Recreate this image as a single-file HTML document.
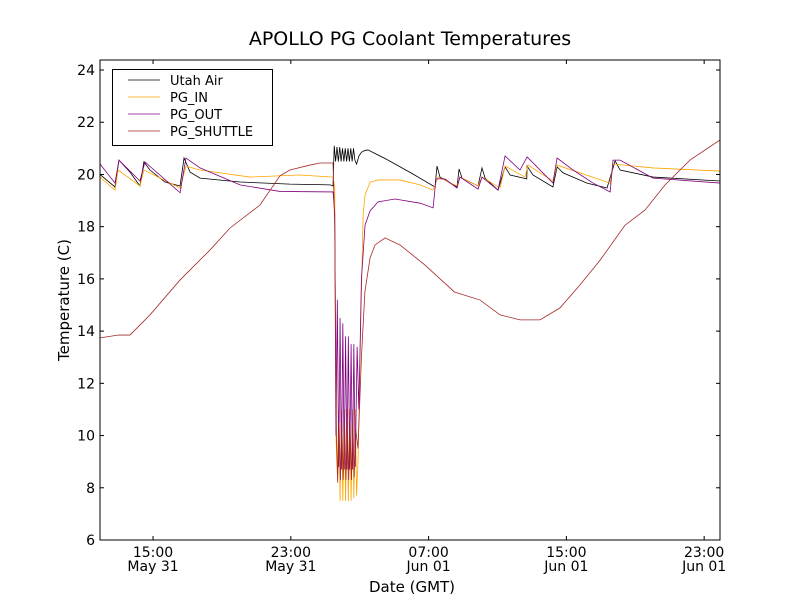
<!DOCTYPE html>
<html><head><meta charset="utf-8"><style>
body{margin:0;background:#fff}
svg text{font-family:"DejaVu Sans","Liberation Sans",sans-serif}
</style></head><body>
<svg id="chart" width="800" height="600" xmlns="http://www.w3.org/2000/svg">
<rect width="800" height="600" fill="#fff"/>
<text x="410" y="45" font-size="19" text-anchor="middle">APOLLO PG Coolant Temperatures</text>
<g id="plot"></g>
<g id="axes"></g>
<text x="412" y="592" font-size="15" text-anchor="middle">Date (GMT)</text>
<text transform="translate(69,300) rotate(-90)" font-size="15" text-anchor="middle">Temperature (C)</text>
<g>
<rect x="112.5" y="69.5" width="160" height="76" fill="#fff" stroke="#000" stroke-width="1"/>
<line x1="128" y1="80" x2="160" y2="80" stroke="#000" stroke-width="0.7"/>
<text x="170" y="85" font-size="13">Utah Air</text>
<line x1="128" y1="97" x2="160" y2="97" stroke="#FFA500" stroke-width="0.7"/>
<text x="170" y="102" font-size="13">PG_IN</text>
<line x1="128" y1="114" x2="160" y2="114" stroke="#800080" stroke-width="0.7"/>
<text x="170" y="119" font-size="13">PG_OUT</text>
<line x1="128" y1="131" x2="160" y2="131" stroke="#A52A2A" stroke-width="0.7"/>
<text x="170" y="136" font-size="13">PG_SHUTTLE</text>
</g>
</svg>
<script>
// hours since May 31 00:00 GMT
const xTicks=[15,23,31,39,47];
const xTickTime=["15:00","23:00","07:00","15:00","23:00"];
const xTickDate=["May 31","May 31","Jun 01","Jun 01","Jun 01"];
const yTicks=[6,8,10,12,14,16,18,20,22,24];
const utahT=[11.92,12.79,13.02,13.66,14.24,14.47,14.82,15.69,16.57,16.80,17.15,17.73,20.05,22.95,25.28,25.45,25.52,25.6,25.68,25.76,25.84,25.92,26.0,26.08,26.16,26.24,26.32,26.40,26.48,26.56,26.64,26.72,26.82,26.95,27.1,27.3,27.48,28.5,30.0,31.37,31.49,31.66,32.65,32.77,32.94,33.87,34.10,34.28,35.03,35.44,35.73,36.70,36.72,37.06,38.22,38.46,38.81,40.20,41.36,41.83,42.12,44.03,47.92];
const utahV=[20.0,19.52,20.55,20.09,19.56,20.48,20.17,19.71,19.56,20.63,20.09,19.86,19.71,19.63,19.60,19.56,21.1,20.5,21.05,20.5,21.05,20.5,21.0,20.5,21.0,20.5,21.0,20.5,21.0,20.5,21.0,20.55,20.4,20.7,20.85,20.92,20.94,20.6,20.05,19.52,20.32,19.90,19.52,20.21,19.86,19.56,20.25,19.86,19.40,20.29,19.98,19.83,20.32,19.98,19.52,20.29,20.06,19.67,19.48,20.52,20.17,19.90,19.75];
const inT=[11.92,12.79,12.97,14.24,14.47,16.57,16.91,17.73,20.63,23.53,25.45,25.55,25.62,25.7,25.78,25.86,25.94,26.02,26.10,26.18,26.26,26.34,26.42,26.50,26.58,26.66,26.74,26.82,26.9,27.05,27.2,27.31,27.6,28.06,29.34,30.50,31.26,31.55,32.65,32.82,33.87,34.10,35.15,35.44,36.60,36.77,38.22,38.46,41.54,41.71,44.03,47.92];
const inV=[19.9,19.40,20.17,19.56,20.17,19.48,20.32,20.17,19.90,19.98,19.9,19.5,10.0,8.5,11.0,7.5,11.0,7.5,11.0,7.5,11.0,7.5,11.0,7.5,11.0,7.6,11.0,7.7,9.0,14.0,18.5,19.21,19.7,19.79,19.79,19.6,19.40,19.90,19.56,19.90,19.56,19.90,19.48,20.32,19.90,20.36,19.75,20.36,19.67,20.40,20.25,20.13];
const outT=[11.92,12.79,13.02,14.24,14.53,16.57,16.91,17.73,20.05,22.37,25.45,25.55,25.62,25.7,25.78,25.86,25.94,26.02,26.10,26.18,26.26,26.34,26.42,26.50,26.58,26.66,26.74,26.85,26.95,27.1,27.31,27.6,28.06,29.05,30.50,31.26,31.43,31.95,32.65,32.82,33.87,34.10,35.03,35.44,36.31,36.72,38.22,38.46,39.39,40.55,41.54,41.71,42.12,44.03,47.92];
const outV=[20.4,19.67,20.55,19.75,20.48,19.30,20.63,20.25,19.60,19.35,19.33,18.5,10.0,15.2,8.8,14.5,8.7,14.3,8.7,13.8,8.7,13.8,8.7,13.5,8.7,13.5,8.8,13.4,11.0,16.0,18.06,18.6,18.95,19.06,18.9,18.72,19.83,19.83,19.48,19.90,19.44,19.90,19.40,20.71,20.17,20.67,19.67,20.63,20.17,19.67,19.33,20.55,20.55,19.86,19.67];
const shT=[11.92,13.0,13.66,14.82,16.57,18.31,19.47,21.21,22.37,22.95,24.11,24.7,25.45,25.55,25.65,25.72,25.80,25.88,25.96,26.04,26.12,26.20,26.28,26.36,26.44,26.52,26.60,26.68,26.76,26.9,27.1,27.3,27.6,27.89,28.47,29.34,30.79,32.5,33.99,35.15,36.31,37.47,38.63,39.79,40.96,42.41,43.57,44.73,46.18,47.92];
const shV=[13.74,13.85,13.85,14.62,15.96,17.11,17.95,18.83,19.95,20.17,20.36,20.44,20.44,18.0,10.0,8.2,10.5,8.3,10.5,8.3,10.5,8.3,10.5,8.3,10.5,8.3,10.5,8.4,10.3,9.5,13.0,15.5,16.8,17.3,17.57,17.3,16.53,15.5,15.19,14.62,14.43,14.43,14.89,15.77,16.72,18.06,18.64,19.6,20.55,21.32];

const L=100,R=720,T=60,B=540,x0=11.92,x1=47.92,y0=6,y1=24.38;
const sx=h=>L+(h-x0)/(x1-x0)*(R-L);
const sy=v=>540-(v-y0)*26.11;
const NS="http://www.w3.org/2000/svg";
const plot=document.getElementById('plot'),axes=document.getElementById('axes');
function mk(tag,attrs,parent){const e=document.createElementNS(NS,tag);for(const k in attrs)e.setAttribute(k,attrs[k]);parent.appendChild(e);return e;}
const cp=mk('clipPath',{id:'clip'},plot);mk('rect',{x:L,y:T,width:R-L,height:B-T},cp);
function line(ts,vs,color,name){
  let d=ts.map((t,i)=>(i?'L':'M')+sx(t).toFixed(2)+','+sy(vs[i]).toFixed(2)).join('');
  const p=mk('path',{d:d,fill:'none',stroke:color,'stroke-width':0.8,'clip-path':'url(#clip)'},plot);
  
  
}
line(utahT,utahV,'#000','utah-air-line');
line(inT,inV,'#FFA500','pg-in-line');
line(outT,outV,'#800080','pg-out-line');
line(shT,shV,'#A52A2A','pg-shuttle-line');
mk('rect',{x:L,y:T,width:R-L,height:B-T,fill:'none',stroke:'#000','stroke-width':1},axes);
xTicks.forEach((h,i)=>{const x=sx(h);
  mk('line',{x1:x,y1:B,x2:x,y2:B-4,stroke:'#000'},axes);
  mk('line',{x1:x,y1:T,x2:x,y2:T+4,stroke:'#000'},axes);
  const t=mk('text',{x:x,y:B+17,'font-size':14,'text-anchor':'middle'},axes);t.textContent=xTickTime[i];
  
  
  const t2=mk('text',{x:x,y:B+31,'font-size':14,'text-anchor':'middle'},axes);t2.textContent=xTickDate[i];
  
  
});
yTicks.forEach(v=>{const y=sy(v);
  mk('line',{x1:L,y1:y,x2:L+4,y2:y,stroke:'#000'},axes);
  mk('line',{x1:R,y1:y,x2:R-4,y2:y,stroke:'#000'},axes);
  const t=mk('text',{x:L-5,y:y+5,'font-size':14,'text-anchor':'end'},axes);t.textContent=v;
  
  
});
</script>
</body></html>
